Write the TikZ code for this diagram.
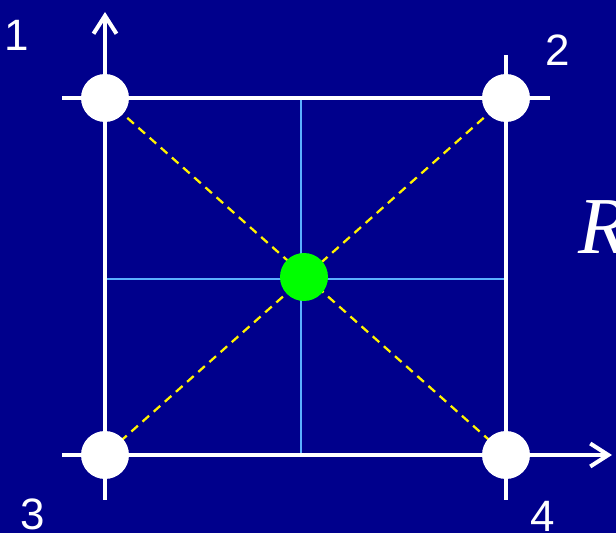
\documentclass[tikz,border=0pt]{standalone}
\usepackage{fontspec}
\setmainfont{Liberation Sans}
\newfontfamily\serifit{Liberation Serif}
\usetikzlibrary{arrows.meta}

\definecolor{bgnavy}{RGB}{0,0,140}
\definecolor{crossblue}{RGB}{90,175,255}
\definecolor{dotgreen}{RGB}{0,255,0}

\begin{document}
\begin{tikzpicture}[x=0.02cm, y=-0.02cm, >={Straight Barb[length=3.6mm, width=4.6mm]}]
\tikzset{
  frame/.style={draw=white, line width=2.3pt},
  cross/.style={draw=crossblue, line width=1.1pt},
  diag/.style={draw=yellow, line width=1.3pt, dash pattern=on 5pt off 3.5pt},
  corner/.style={circle, fill=white, minimum size=0.96cm, inner sep=0pt},
  centre/.style={circle, fill=dotgreen, minimum size=0.96cm, inner sep=0pt},
  num/.style={text=white, font=\fontsize{25}{30}\selectfont, inner sep=0pt},
}

% Background
\fill[bgnavy] (0,0) rectangle (616,533);
\useasboundingbox (0,0) rectangle (616,533);

% Corner and centre positions
\coordinate (p1) at (105,98);
\coordinate (p2) at (506,98);
\coordinate (p3) at (105,455);
\coordinate (p4) at (506,455);
\coordinate (pc) at (304,277);

% Free ends of the axes and edges
\coordinate (ytail) at (105,500);
\coordinate (ytip) at (105,12);
\coordinate (xtail) at (62,455);
\coordinate (xtip) at (612,455);
\coordinate (ttail) at (62,98);
\coordinate (thead) at (550,98);
\coordinate (rtop) at (506,55);
\coordinate (rbot) at (506,500);

% Mid lines
\coordinate (mtop) at (301,98);
\coordinate (mbot) at (301,455);
\coordinate (mleft) at (105,279);
\coordinate (mright) at (506,279);
\draw[cross] (mtop) -- (mbot);
\draw[cross] (mleft) -- (mright);

% Diagonals
\draw[diag] (p1) -- (p4);
\draw[diag] (p2) -- (p3);

% Square and axes
\draw[frame, ->] (ytail) -- (p3) -- (p1) -- (ytip);
\draw[frame, ->] (xtail) -- (p3) -- (p4) -- (xtip);
\draw[frame] (ttail) -- (p1) -- (p2) -- (thead);
\draw[frame] (rtop) -- (p2) -- (p4) -- (rbot);

% Points
\node (c1) [corner] at (p1) {};
\node (c2) [corner] at (p2) {};
\node (c3) [corner] at (p3) {};
\node (c4) [corner] at (p4) {};
\node (mid) [centre] at (pc) {};

% Labels
\node (n1) [num] at (17,35) {1};
\node (n2) [num] at (558,50) {2};
\node (n3) [num] at (33,514) {3};
\node (n4) [num] at (543,516) {4};
\node (rlab) [anchor=base west, text=white, inner sep=0pt,
  font=\serifit\itshape\fontsize{46}{50}\selectfont] at (578,254) {R};

\end{tikzpicture}
\end{document}
